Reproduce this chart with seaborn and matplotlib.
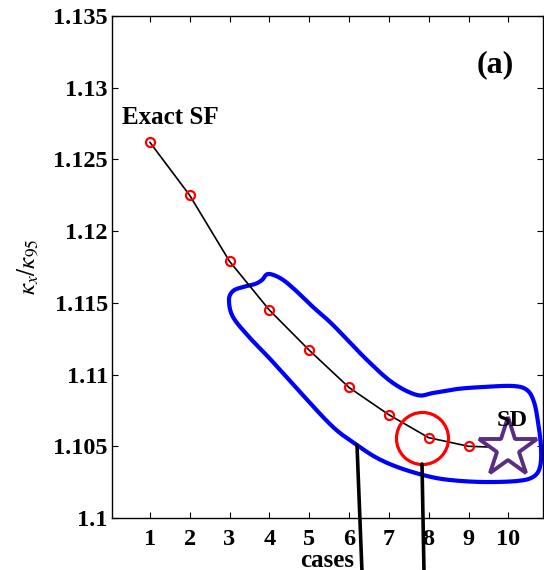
import numpy as np
import matplotlib
matplotlib.use("Agg")
import matplotlib.pyplot as plt
import seaborn as sns
from matplotlib.lines import Line2D

# ---- data ----
cases = [1, 2, 3, 4, 5, 6, 7, 8, 9, 10]
kappa_ratio = [1.1262, 1.1225, 1.1179, 1.1145, 1.1117, 1.1091, 1.1072, 1.1056, 1.1050, 1.1049]
sf_cases = cases[:9]
sf_values = kappa_ratio[:9]
sd_case = [10]
sd_value = [1.1049]
xtick_vals = [1, 2, 3, 4, 5, 6, 7, 8, 9, 10]
ytick_vals = [1.1, 1.105, 1.11, 1.115, 1.12, 1.125, 1.13, 1.135]
ytick_labels = ['1.1', '1.105', '1.11', '1.115', '1.12', '1.125', '1.13', '1.135']

sns.set_theme(style="ticks")
plt.rcParams['font.family'] = ['Liberation Serif', 'DejaVu Serif']
plt.rcParams['mathtext.fontset'] = 'stix'
plt.rcParams['text.color'] = 'black'
plt.rcParams['axes.labelcolor'] = 'black'
plt.rcParams['xtick.color'] = 'black'
plt.rcParams['ytick.color'] = 'black'

W, H = 544, 570
fig = plt.figure(figsize=(W / 100, H / 100), dpi=100)
ax = fig.add_axes([112 / W, 1 - 518 / H, 431 / W, 502 / H])

sns.lineplot(x=cases, y=kappa_ratio, ax=ax, color='black', linewidth=1.2, zorder=3)
ax.plot(sf_cases, sf_values, linestyle='none', marker='o', markersize=6.5,
        markerfacecolor='none', markeredgecolor='red', markeredgewidth=1.6, zorder=4)
ax.plot(sd_case, sd_value, linestyle='none', marker='*', markersize=44,
        markerfacecolor='white', markeredgecolor='#5a2d82', markeredgewidth=2.8, zorder=5)

ax.set_xlim(0.05, 10.87)
ax.set_ylim(1.1, 1.135)
ax.set_xticks(xtick_vals)
ax.set_xticklabels([str(v) for v in xtick_vals])
ax.set_yticks(ytick_vals)
ax.set_yticklabels(ytick_labels)
ax.tick_params(direction='in', length=4, width=0.8, colors='black',
               top=True, right=True, labelsize=17.5)
ax.tick_params(axis='x', pad=8)
ax.tick_params(axis='y', pad=3)
for lab in ax.get_xticklabels() + ax.get_yticklabels():
    lab.set_fontweight('bold')
    lab.set_color('black')
for sp in ax.spines.values():
    sp.set_color('black')
    sp.set_linewidth(1.0)

ax.set_xlabel('cases', fontsize=18, fontweight='bold', labelpad=-1, color='black')
ax.set_ylabel('')
fig.text(28 / W, 1 - 267 / H, r'$\kappa_x/\kappa_{95}$', rotation=90,
         ha='center', va='center', fontsize=18, color='black')

# text annotations
ax.text((170 - 112) / 431, (518 - 118) / 502, 'Exact SF', transform=ax.transAxes,
        ha='center', va='center', fontsize=18, fontweight='bold', color='black')
ax.text((512 - 112) / 431, (518 - 421) / 502, 'SD', transform=ax.transAxes,
        ha='center', va='center', fontsize=17.5, fontweight='bold', zorder=6, color='black')
ax.text((495 - 112) / 431, (518 - 65) / 502, '(a)', transform=ax.transAxes,
        ha='center', va='center', fontsize=23, fontweight='bold', color='black')

# hand-drawn blue contour (decoration, reference pixel coords)
outline_px = [(229, 300), (233, 291), (243, 287), (255, 284), (262, 280), (268, 274),
              (280, 278), (293, 288), (313, 307), (333, 325), (367, 360), (393, 383),
              (417, 395), (433, 393), (457, 389), (483, 387), (513, 386), (527, 390),
              (534, 402), (538, 422), (541, 447), (540, 467), (533, 477), (517, 481),
              (483, 482), (450, 480), (427, 476), (400, 468), (377, 458), (357, 445),
              (333, 427), (300, 392), (272, 361), (250, 338), (233, 317)]


def smooth_closed(pts, n=16):
    P = np.array(pts, dtype=float)
    N = len(P)
    out = []
    for i in range(N):
        p0, p1, p2, p3 = P[i - 1], P[i], P[(i + 1) % N], P[(i + 2) % N]
        for t in np.linspace(0, 1, n, endpoint=False):
            t2, t3 = t * t, t * t * t
            out.append(0.5 * ((2 * p1) + (-p0 + p2) * t + (2 * p0 - 5 * p1 + 4 * p2 - p3) * t2
                              + (-p0 + 3 * p1 - 3 * p2 + p3) * t3))
    out.append(out[0])
    return np.array(out)


sm = smooth_closed(outline_px)
fx = (sm[:, 0] - 112) / 431
fy = (518 - sm[:, 1]) / 502
ax.plot(fx, fy, color='#0000ff', linewidth=3.0, transform=ax.transAxes,
        clip_on=False, zorder=2, solid_joinstyle='round')

# red highlight circle
ax.plot([(422 - 112) / 431], [(518 - 438) / 502], transform=ax.transAxes,
        marker='o', markersize=37.5, markerfacecolor='none', markeredgecolor='red',
        markeredgewidth=2.3, linestyle='none', zorder=5, clip_on=False)

# black pointer lines
for (x0, y0, x1, y1) in [(357, 445, 362, 572), (422, 464, 424, 572)]:
    fig.add_artist(Line2D([x0 / W, x1 / W], [1 - y0 / H, 1 - y1 / H], color='black',
                          linewidth=2.6, transform=fig.transFigure, zorder=10))

fig.savefig('out.png', dpi=100)
